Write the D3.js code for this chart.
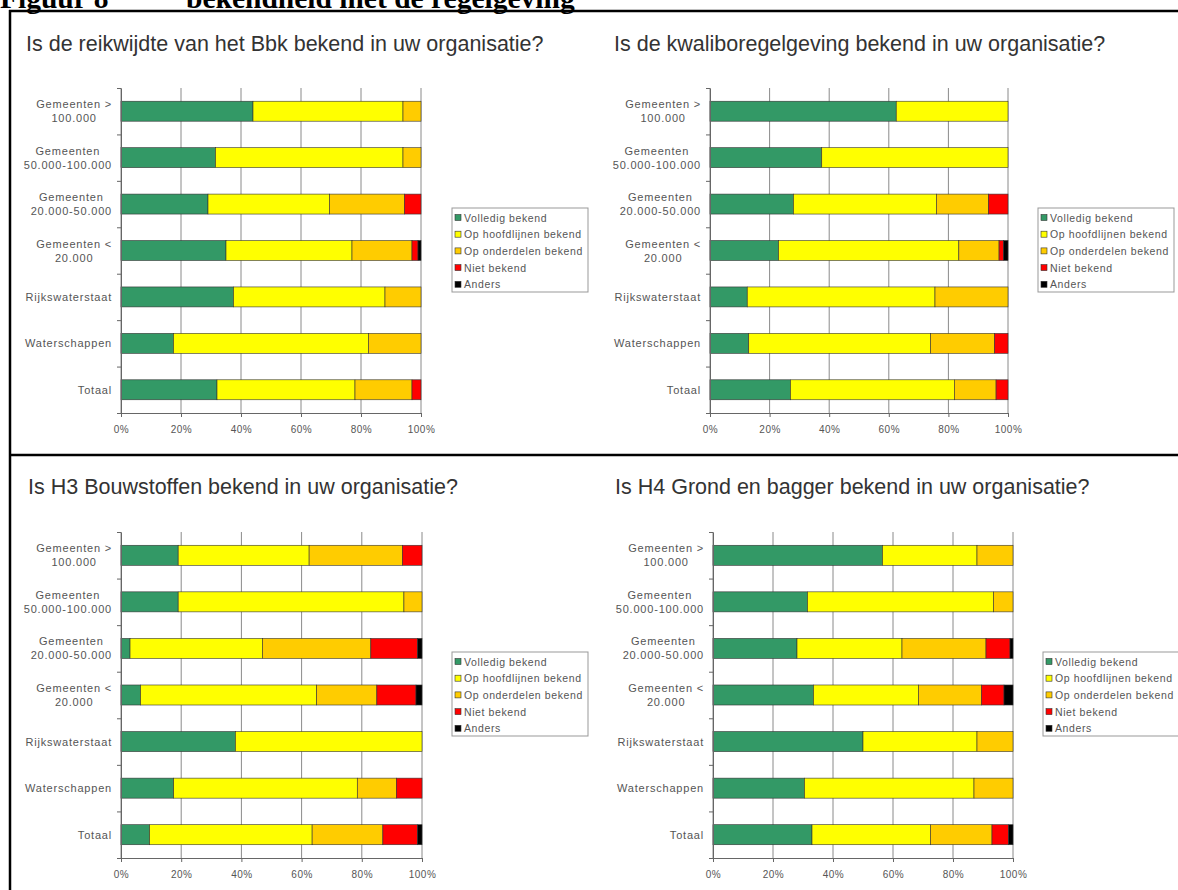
<!DOCTYPE html>
<html>
<head>
<meta charset="utf-8">
<script src="https://cdn.jsdelivr.net/npm/d3@7"></script>
<style>
  body { margin: 0; background: #fff; }
  svg { display: block; font-family: "Liberation Sans", Arial, sans-serif; }
</style>
</head>
<body>
<div id="chart"></div>
<script>
// categories (label lines), series and tick values
const categories = [
  ["Gemeenten >", "100.000"],
  ["Gemeenten", "50.000-100.000"],
  ["Gemeenten", "20.000-50.000"],
  ["Gemeenten <", "20.000"],
  ["Rijkswaterstaat"],
  ["Waterschappen"],
  ["Totaal"]
];
const seriesNames = ["Volledig bekend", "Op hoofdlijnen bekend", "Op onderdelen bekend", "Niet bekend", "Anders"];
const seriesColors = ["#339966", "#ffff00", "#ffcc00", "#ff0000", "#000000"];
const tickValues = [0, 20, 40, 60, 80, 100];

const titles = [
  "Is de reikwijdte van het Bbk bekend in uw organisatie?",
  "Is de kwaliboregelgeving bekend in uw organisatie?",
  "Is H3 Bouwstoffen bekend in uw organisatie?",
  "Is H4 Grond en bagger bekend in uw organisatie?"
];

// percentages per category, in series order
const bbkValues = [
  [44, 50, 6, 0, 0],
  [31.5, 62.5, 6, 0, 0],
  [29, 40.5, 25, 5.5, 0],
  [35, 42, 20, 2, 1],
  [37.5, 50.5, 12, 0, 0],
  [17.5, 65, 17.5, 0, 0],
  [32, 46, 19, 3, 0]
];
const kwaliboValues = [
  [62.5, 37.5, 0, 0, 0],
  [37.5, 62.5, 0, 0, 0],
  [28, 48, 17.5, 6.5, 0],
  [23, 60.5, 13.5, 1.5, 1.5],
  [12.5, 63, 24.5, 0, 0],
  [13, 61, 21.5, 4.5, 0],
  [27, 55, 14, 4, 0]
];
const h3Values = [
  [19, 43.5, 31, 6.5, 0],
  [19, 75, 6, 0, 0],
  [3, 44, 36, 15.5, 1.5],
  [6.5, 58.5, 20, 13, 2],
  [38, 62, 0, 0, 0],
  [17.5, 61, 13, 8.5, 0],
  [9.5, 54, 23.5, 11.5, 1.5]
];
const h4Values = [
  [56.5, 31.5, 12, 0, 0],
  [31.5, 62, 6.5, 0, 0],
  [28, 35, 28, 8, 1],
  [33.5, 35, 21, 7.5, 3],
  [50, 38, 12, 0, 0],
  [30.5, 56.5, 13, 0, 0],
  [33, 39.5, 20.5, 5.5, 1.5]
];
const panelValues = [bbkValues, kwaliboValues, h3Values, h4Values];

// where each panel sits on the page
const panels = [
  { left: 121, right: 421, top: 88, bottom: 413, titleX: 26, titleY: 51, legX: 452, legY: 208 },
  { left: 710, right: 1008, top: 88, bottom: 413, titleX: 614, titleY: 51, legX: 1038, legY: 208 },
  { left: 121, right: 422, top: 532, bottom: 858, titleX: 28, titleY: 494, legX: 452, legY: 652 },
  { left: 713, right: 1013, top: 532, bottom: 858, titleX: 615, titleY: 494, legX: 1043, legY: 652 }
];

const width = 1178, height = 890;
const svg = d3.select("#chart").append("svg")
  .attr("width", width)
  .attr("height", height);

// page heading, cut off at the top like the scan
const headFont = "'Liberation Serif', 'Times New Roman', serif";
svg.append("text")
  .attr("x", 0).attr("y", 8)
  .attr("font-family", headFont)
  .attr("font-weight", "bold")
  .attr("font-size", 29.5)
  .text("Figuur 8");
svg.append("text")
  .attr("x", 186).attr("y", 8)
  .attr("font-family", headFont)
  .attr("font-weight", "bold")
  .attr("font-size", 29.5)
  .text("bekendheid met de regelgeving");

// frame around the charts
svg.append("line").attr("x1", 9).attr("x2", width).attr("y1", 11).attr("y2", 11)
  .attr("stroke", "#000").attr("stroke-width", 2.5);
svg.append("line").attr("x1", 10).attr("x2", 10).attr("y1", 10).attr("y2", height)
  .attr("stroke", "#000").attr("stroke-width", 2.5);
svg.append("line").attr("x1", 9).attr("x2", width).attr("y1", 455).attr("y2", 455)
  .attr("stroke", "#000").attr("stroke-width", 2.5);

const stack = d3.stack().keys(d3.range(seriesNames.length));

function drawPanel(p, values, title) {
  const g = svg.append("g");

  const x = d3.scaleLinear().domain([0, 100]).range([p.left, p.right]);
  const y = d3.scaleBand().domain(d3.range(categories.length))
    .range([p.top, p.bottom]).paddingInner(0.57).paddingOuter(0.285);
  const yEdge = d3.scaleLinear().domain([0, categories.length]).range([p.top, p.bottom]);

  g.append("text")
    .attr("x", p.titleX).attr("y", p.titleY)
    .attr("font-size", 21.5)
    .attr("fill", "#333")
    .text(title);

  // vertical gridlines
  g.selectAll("line.grid")
    .data(tickValues)
    .join("line")
    .attr("class", "grid")
    .attr("x1", d => x(d)).attr("x2", d => x(d))
    .attr("y1", p.top).attr("y2", p.bottom)
    .attr("stroke", "#8a8a8a").attr("stroke-width", 1);

  // stacked bars
  const rows = values.map(r => Object.assign({}, r));
  const layers = stack(rows);
  g.selectAll("g.layer")
    .data(layers)
    .join("g")
    .attr("class", "layer")
    .attr("fill", (d, i) => seriesColors[i])
    .selectAll("rect")
    .data(d => d.map((s, i) => ({ s, i })).filter(o => o.s[1] - o.s[0] > 0))
    .join("rect")
    .attr("x", o => x(o.s[0]))
    .attr("width", o => x(o.s[1]) - x(o.s[0]))
    .attr("y", o => y(o.i))
    .attr("height", y.bandwidth())
    .attr("stroke", "#333")
    .attr("stroke-width", 0.6);

  // axes
  const xAxis = g.append("g")
    .attr("transform", `translate(0,${p.bottom})`)
    .call(d3.axisBottom(x).tickValues(tickValues).tickFormat(d => d + "%").tickSize(4).tickSizeOuter(0));
  xAxis.select(".domain").attr("stroke", "#666");
  xAxis.selectAll(".tick line").attr("stroke", "#666");
  xAxis.selectAll(".tick text")
    .attr("font-size", 10).attr("fill", "#555")
    .attr("letter-spacing", 0.5)
    .attr("dy", "1.3em");

  const yAxis = g.append("g")
    .attr("transform", `translate(${p.left},0)`)
    .call(d3.axisLeft(yEdge).tickValues(d3.range(categories.length + 1)).tickFormat("").tickSize(4).tickSizeOuter(0));
  yAxis.select(".domain").attr("stroke", "#666");
  yAxis.selectAll(".tick line").attr("stroke", "#666");

  // category labels, centred lines, right edge against the axis
  categories.forEach((lines, i) => {
    const cy = y(i) + y.bandwidth() / 2;
    const t = g.append("text")
      .attr("font-size", 11)
      .attr("letter-spacing", 0.8)
      .attr("fill", "#555")
      .attr("text-anchor", "middle");
    lines.forEach((line, k) => {
      t.append("tspan")
        .attr("y", cy + (k - (lines.length - 1) / 2) * 14 + 4)
        .text(line);
    });
    let w = 0;
    t.selectAll("tspan").each(function () { w = Math.max(w, this.getComputedTextLength()); });
    t.selectAll("tspan").attr("x", p.left - 9 - w / 2);
  });

  // legend
  const leg = g.append("g").attr("transform", `translate(${p.legX},${p.legY})`);
  leg.append("rect")
    .attr("width", 136).attr("height", 84)
    .attr("fill", "#fff").attr("stroke", "#999").attr("stroke-width", 1);
  const item = leg.selectAll("g.item")
    .data(seriesNames)
    .join("g")
    .attr("class", "item")
    .attr("transform", (d, i) => `translate(3,${10 + i * 16.7})`);
  item.append("rect")
    .attr("x", 0).attr("y", -3.5).attr("width", 6).attr("height", 6)
    .attr("fill", (d, i) => seriesColors[i])
    .attr("stroke", "#333").attr("stroke-width", 0.6);
  item.append("text")
    .attr("x", 9).attr("y", 3.5)
    .attr("font-size", 10.5)
    .attr("letter-spacing", 0.6)
    .attr("fill", "#555")
    .text(d => d);
}

panels.forEach((p, i) => drawPanel(p, panelValues[i], titles[i]));
</script>
</body>
</html>
